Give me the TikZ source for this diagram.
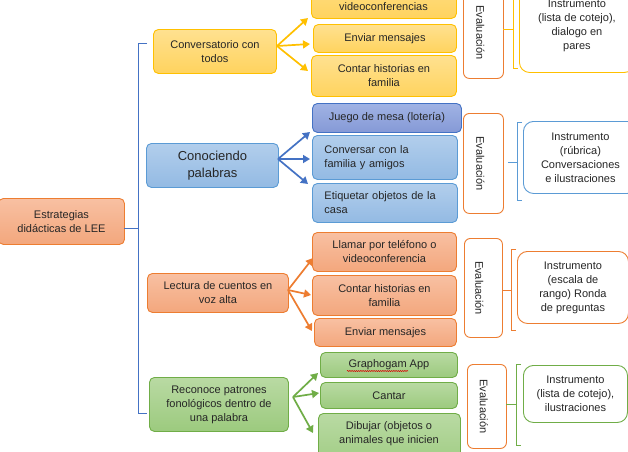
\documentclass[tikz,border=0pt]{standalone}
\usepackage{fontspec}
\setmainfont{Liberation Sans}
\usetikzlibrary{arrows.meta,decorations.pathmorphing}
\definecolor{txt}{HTML}{262626}
\definecolor{ylwD}{HTML}{FFC000}
\definecolor{ylwT}{HTML}{FFE190}
\definecolor{ylwB}{HTML}{FFD35E}
\definecolor{bluD}{HTML}{5B9BD5}
\definecolor{bluL}{HTML}{4472C4}
\definecolor{bluT}{HTML}{B2CEEC}
\definecolor{bluB}{HTML}{93BAE3}
\definecolor{purT}{HTML}{A0B3E4}
\definecolor{purB}{HTML}{8599D6}
\definecolor{orgD}{HTML}{ED7D31}
\definecolor{orgT}{HTML}{F8C0A2}
\definecolor{orgB}{HTML}{F3A77D}
\definecolor{grnD}{HTML}{70AD47}
\definecolor{grnT}{HTML}{B9DAA3}
\definecolor{grnB}{HTML}{9CCA7E}
\begin{document}
\begin{tikzpicture}[x=1pt,y=-1pt,
  every node/.style={text=txt,font=\fontsize{11}{14}\selectfont},
  box/.style={rounded corners=5pt,line width=0.9pt,anchor=north west,inner sep=0pt,align=center},
  ybox/.style={box,draw=ylwD,top color=ylwT,bottom color=ylwB},
  bbox/.style={box,draw=bluD,top color=bluT,bottom color=bluB},
  pbox/.style={box,draw=bluL,top color=purT,bottom color=purB},
  obox/.style={box,draw=orgD,top color=orgT,bottom color=orgB},
  gbox/.style={box,draw=grnD,top color=grnT,bottom color=grnB},
  lbl/.style={align=center,inner sep=0pt},
  evbox/.style={draw=orgD,fill=white,rounded corners=6pt,line width=0.9pt,anchor=north west,inner sep=0pt},
  evtext/.style={rotate=-90,inner sep=0pt},
  inbox/.style={fill=white,rounded corners=10pt,line width=0.9pt,anchor=north west,inner sep=0pt,align=center},
  brk/.style={line width=0.9pt},
  arr/.style={line width=1.7pt,-{Triangle[length=7pt,width=8pt]}},
]
\useasboundingbox (0,0) rectangle (628,451);
\fill[white] (0,0) rectangle (628,451);

% root
\node[obox, minimum width=126, minimum height=46] (root) at (-2,198) {Estrategias\\didácticas de LEE};

% level 1
\node[ybox, minimum width=123, minimum height=44] (c1) at (153,29) {Conversatorio con\\todos};
\node[bbox, minimum width=132, minimum height=44, font=\fontsize{13}{17}\selectfont] (c2) at (146,143) {Conociendo\\palabras};
\node[obox, minimum width=141, minimum height=39] (c3) at (147,273) {Lectura de cuentos en\\voz alta};
\node[gbox, minimum width=139, minimum height=54] (c4) at (149,377) {Reconoce patrones\\fonológicos dentro de\\una palabra};

% left bracket
\coordinate (rj) at (124,228);
\coordinate (bt) at (147,43);
\coordinate (bb) at (147,413);
\draw[brk,bluL] (rj) -- (138,228);
\draw[brk,bluL] (bt) -- (138,43) -- (138,413) -- (bb);

% level 2 yellow
\node[ybox, minimum width=145, minimum height=48] (y1) at (311,-30) {};
\node[lbl] (y1t) at (383.5,7) {videoconferencias};
\node[ybox, minimum width=143, minimum height=28] (y2) at (313,24) {Enviar mensajes};
\node[ybox, minimum width=145, minimum height=41] (y3) at (311,55) {Contar historias en\\familia};

% level 2 blue
\node[pbox, minimum width=149, minimum height=29] (b1) at (312,103) {Juego de mesa (lotería)};
\node[bbox, minimum width=145, minimum height=44, align=left, text width=121, inner xsep=12pt] (b2) at (312,135) {Conversar con la\\familia y amigos};
\node[bbox, minimum width=145, minimum height=39, align=left, text width=121, inner xsep=12pt] (b3) at (312,183) {Etiquetar objetos de la\\casa};

% level 2 orange
\node[obox, minimum width=144, minimum height=39] (o1) at (312,232) {Llamar por teléfono o\\videoconferencia};
\node[obox, minimum width=144, minimum height=40] (o2) at (312,275) {Contar historias en\\familia};
\node[obox, minimum width=142, minimum height=28] (o3) at (314,318) {Enviar mensajes};

% level 2 green
\node[gbox, minimum width=137, minimum height=25] (g1) at (320,352) {Graphogam App};
\draw[red!85!black, line width=0.5pt, decorate, decoration={snake,amplitude=0.6pt,segment length=2.2pt}] (347,371) -- (408,371);
\node[gbox, minimum width=137, minimum height=26] (g2) at (320,382) {Cantar};
\node[gbox, minimum width=142, minimum height=60] (g3) at (318,413) {};
\node[lbl] (g3t) at (389,433.5) {Dibujar (objetos o\\animales que inicien};

% arrows
\coordinate (yo) at (277,46);
\coordinate (ya) at (308,18);
\coordinate (yb) at (310,44);
\coordinate (yc) at (308,71);
\draw[arr,ylwD] (yo) -- (ya);
\draw[arr,ylwD] (yo) -- (yb);
\draw[arr,ylwD] (yo) -- (yc);
\coordinate (bo) at (278,159);
\coordinate (ba) at (310,132);
\coordinate (bbt) at (310,159);
\coordinate (bc) at (308,184);
\draw[arr,bluL] (bo) -- (ba);
\draw[arr,bluL] (bo) -- (bbt);
\draw[arr,bluL] (bo) -- (bc);
\coordinate (oo) at (288,290);
\coordinate (oa) at (313,258);
\coordinate (ob) at (311,295);
\coordinate (oc) at (312,331);
\draw[arr,orgD] (oo) -- (oa);
\draw[arr,orgD] (oo) -- (ob);
\draw[arr,orgD] (oo) -- (oc);
\coordinate (go) at (293,397);
\coordinate (ga) at (318,373);
\coordinate (gb) at (319,393);
\coordinate (gc) at (313,433);
\draw[arr,grnD] (go) -- (ga);
\draw[arr,grnD] (go) -- (gb);
\draw[arr,grnD] (go) -- (gc);

% evaluation boxes
\node[evbox, minimum width=40, minimum height=92] (e1) at (463,-14) {};
\node[evtext] at ([xshift=-3pt]e1.center) {Evaluación};
\node[evbox, minimum width=40, minimum height=100] (e2) at (463,113) {};
\node[evtext] at ([xshift=-3pt]e2.center) {Evaluación};
\node[evbox, minimum width=38, minimum height=99] (e3) at (464,238) {};
\node[evtext] at ([xshift=-4pt]e3.center) {Evaluación};
\node[evbox, minimum width=39, minimum height=84] (e4) at (467,364) {};
\node[evtext] at ([xshift=-3pt]e4.center) {Evaluación};

% instrument boxes
\node[inbox, draw=ylwD, minimum width=115, minimum height=94] (i1) at (519,-22) {Instrumento\\(lista de cotejo),\\dialogo en\\pares};
\node[inbox, draw=bluD, minimum width=114, minimum height=72] (i2) at (523,121) {Instrumento\\(rúbrica)\\Conversaciones\\e ilustraciones};
\node[inbox, draw=orgD, minimum width=111, minimum height=72] (i3) at (517,251) {Instrumento\\(escala de\\rango) Ronda\\de preguntas};
\node[inbox, draw=grnD, minimum width=104, minimum height=57] (i4) at (523,365) {Instrumento\\(lista de cotejo),\\ilustraciones};

% right brackets
\draw[brk,ylwD] (503,29) -- (513,29);
\draw[brk,ylwD] (518,-10) -- (513,-10) -- (513,68) -- (518,68);
\draw[brk,bluD] (508,162) -- (517,162);
\draw[brk,bluD] (522,122) -- (517,122) -- (517,200) -- (522,200);
\draw[brk,orgD] (502,290) -- (511,290);
\draw[brk,orgD] (516,249) -- (511,249) -- (511,330) -- (516,330);
\draw[brk,grnD] (506,404) -- (516,404);
\draw[brk,grnD] (521,364) -- (516,364) -- (516,445) -- (521,445);
\end{tikzpicture}
\end{document}
